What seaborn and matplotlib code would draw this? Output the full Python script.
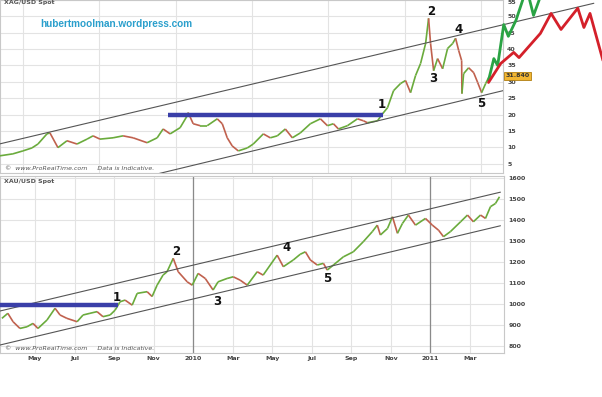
import matplotlib
matplotlib.use("Agg")
import matplotlib.pyplot as plt
import seaborn as sns
import pandas as pd
import numpy as np

# ---- silver (XAG/USD), dates as decimal years ----
ag_t = [2005.698, 2005.869, 2006.0, 2006.118, 2006.197, 2006.315, 2006.354, 2006.459, 2006.577, 2006.709,
        2006.840, 2006.919, 2007.010, 2007.181, 2007.312, 2007.444, 2007.627, 2007.759, 2007.837, 2007.929,
        2008.060, 2008.152, 2008.165, 2008.231, 2008.323, 2008.415, 2008.546, 2008.612, 2008.677, 2008.743,
        2008.822, 2008.940, 2009.018, 2009.150, 2009.241, 2009.333, 2009.438, 2009.530, 2009.635, 2009.766,
        2009.898, 2009.990, 2010.068, 2010.134, 2010.252, 2010.383, 2010.462, 2010.514, 2010.646, 2010.711,
        2010.777, 2010.856, 2010.948, 2011.013, 2011.079, 2011.144, 2011.210, 2011.276, 2011.315, 2011.341,
        2011.381, 2011.433, 2011.499, 2011.564, 2011.630, 2011.669, 2011.709, 2011.748, 2011.752, 2011.774,
        2011.840, 2011.906, 2011.958, 2012.010, 2012.063, 2012.102]
ag_v = [7.4, 8.0, 8.9, 9.8, 11.0, 14.1, 14.4, 9.9, 12.0, 11.0,
        12.5, 13.5, 12.5, 12.9, 13.5, 12.9, 11.4, 12.9, 15.6, 14.1,
        16.0, 19.6, 20.6, 17.2, 16.6, 16.6, 18.7, 17.2, 12.9, 10.4,
        8.9, 9.8, 11.0, 14.1, 12.9, 13.5, 15.6, 12.9, 14.4, 17.2,
        18.7, 16.6, 17.2, 15.6, 16.6, 18.7, 18.1, 17.5, 18.1, 20.2,
        22.1, 27.3, 29.5, 30.4, 26.7, 31.9, 35.6, 41.7, 49.4, 41.7,
        33.4, 37.1, 34.0, 40.2, 41.7, 43.3, 39.6, 36.5, 26.4, 32.5,
        34.3, 32.8, 29.8, 26.7, 29.5, 31.3]

# ---- gold (XAU/USD) ----
au_t = [2009.194, 2009.219, 2009.241, 2009.270, 2009.300, 2009.325, 2009.346, 2009.384, 2009.418, 2009.439,
        2009.468, 2009.511, 2009.536, 2009.565, 2009.595, 2009.620, 2009.650, 2009.671, 2009.692, 2009.713,
        2009.743, 2009.764, 2009.806, 2009.827, 2009.848, 2009.873, 2009.890, 2009.916, 2009.937, 2009.975,
        2009.996, 2010.021, 2010.051, 2010.084, 2010.105, 2010.143, 2010.169, 2010.198, 2010.228, 2010.270,
        2010.295, 2010.354, 2010.380, 2010.422, 2010.451, 2010.473, 2010.494, 2010.523, 2010.549, 2010.565,
        2010.591, 2010.633, 2010.675, 2010.717, 2010.755, 2010.776, 2010.789, 2010.819, 2010.840, 2010.861,
        2010.882, 2010.907, 2010.937, 2010.979, 2011.008, 2011.034, 2011.055, 2011.084, 2011.127, 2011.156,
        2011.181, 2011.211, 2011.232, 2011.253, 2011.274, 2011.291]
au_v = [932, 956, 916, 884, 892, 908, 884, 924, 980, 948,
        932, 916, 948, 956, 964, 940, 948, 971, 1011, 1019,
        995, 1051, 1059, 1036, 1090, 1138, 1154, 1218, 1154, 1106,
        1090, 1146, 1122, 1067, 1106, 1122, 1130, 1114, 1090, 1154,
        1138, 1233, 1178, 1210, 1237, 1249, 1210, 1186, 1194, 1162,
        1186, 1225, 1249, 1297, 1345, 1376, 1329, 1360, 1416, 1337,
        1384, 1424, 1376, 1408, 1376, 1352, 1321, 1345, 1392, 1424,
        1392, 1424, 1408, 1464, 1479, 1511]

# channels, support lines and projections
ag_upper = ([2005.698, 2013.480], [11.05, 54.0])
ag_lower = ([2007.759, 2012.29], [1.85, 27.3])
ag_level = ([2007.903, 2010.724], [20.0, 20.0])
au_upper = ([2009.186, 2011.295], [967, 1533])
au_lower = ([2009.186, 2011.295], [805, 1373])
au_level = ([2009.186, 2009.684], [995, 995])

green_t = [2012.10, 2012.17, 2012.22, 2012.30, 2012.36, 2012.46, 2012.60, 2012.69, 2012.82]
green_v = [30.4, 37.1, 35.0, 47.5, 43.9, 48.8, 58.6, 50.3, 58.6]
red_t = [2012.10, 2012.26, 2012.43, 2012.50, 2012.78, 2012.92, 2013.05, 2013.27, 2013.35, 2013.43, 2013.60]
red_v = [29.8, 35.6, 39.0, 37.4, 44.8, 50.9, 46.0, 52.5, 46.6, 50.9, 36.5]

wave_labels = ["1", "2", "3", "4", "5"]
ag_lab_t = [2010.698, 2011.354, 2011.381, 2011.709, 2012.010]
ag_lab_v = [23.0, 51.5, 31.0, 46.0, 23.3]
au_lab_t = [2009.679, 2009.928, 2010.101, 2010.392, 2010.565]
au_lab_v = [1029, 1252, 1014, 1271, 1124]

ag_ticks = [5, 10, 15, 20, 25, 30, 35, 40, 45, 50, 55]
au_ticks = [800, 900, 1000, 1100, 1200, 1300, 1400, 1500, 1600]
ag_years = [2006, 2007, 2008, 2009, 2010, 2011, 2012]
au_months = [(2009, 5, "May"), (2009, 7, "Jul"), (2009, 9, "Sep"), (2009, 11, "Nov"), (2010, 1, "2010"),
             (2010, 3, "Mar"), (2010, 5, "May"), (2010, 7, "Jul"), (2010, 9, "Sep"), (2010, 11, "Nov"),
             (2011, 1, "2011"), (2011, 3, "Mar")]
last_price = 31.84

sns.set_style("white")
plt.rcParams['font.family'] = ['DejaVu Sans']

UP = "#6aab3c"
DOWN = "#c0614e"
GRID = "#e3e3e3"
TXT = "#444444"

fig = plt.figure(figsize=(6.02, 3.97), dpi=100)
ax1 = fig.add_axes([0, 1 - 173 / 397, 503 / 602, 173 / 397])
ax2 = fig.add_axes([0, 1 - 353 / 397, 504 / 602, 177 / 397])


def candles(ax, t, v):
    # colour each move green (up) or red (down), like the small candles
    for i in range(1, len(t)):
        c = UP if v[i] >= v[i - 1] else DOWN
        ax.plot([t[i - 1], t[i]], [v[i - 1], v[i]], color=c, lw=1.2, solid_capstyle="butt", zorder=3)


def styled(ax, ticks):
    ax.set_yticks(ticks)
    ax.set_yticklabels([str(x) for x in ticks], fontsize=4.5, fontweight="bold", color=TXT)
    ax.yaxis.tick_right()
    ax.tick_params(axis="y", length=0, pad=3)
    ax.grid(True, color=GRID, lw=0.8)
    for s in ax.spines.values():
        s.set_color("#c8c8c8")
        s.set_linewidth(0.8)
    ax.set_xlabel("")
    ax.set_ylabel("")


# ---- top panel: silver ----
ax1.set_xlim(2005.70, 2012.29)
ax1.set_ylim(2.15, 54.9)
ax1.set_xticks(ag_years)
ax1.set_xticklabels([])
ax1.tick_params(axis="x", length=0)
styled(ax1, ag_ticks)
ax1.get_yticklabels()[-1].set_va("top")
candles(ax1, ag_t, ag_v)
ax1.plot(*ag_upper, color="#555555", lw=0.8, clip_on=False, zorder=4)
ax1.plot(*ag_lower, color="#555555", lw=0.8, zorder=4)
ax1.plot(*ag_level, color="#3a3fa8", lw=3.2, solid_capstyle="butt", zorder=5)
sns.lineplot(x=green_t, y=green_v, ax=ax1, color="#2aa344", lw=2.0, sort=False, clip_on=False, zorder=6)
sns.lineplot(x=red_t, y=red_v, ax=ax1, color="#d4202a", lw=2.0, sort=False, clip_on=False, zorder=6)
for lab, t, v in zip(wave_labels, ag_lab_t, ag_lab_v):
    ax1.text(t, v, lab, fontsize=8.5, fontweight="bold", color="#111111", ha="center", va="center", zorder=7)
ax1.text(1.005, (last_price - 2.15) / (54.9 - 2.15), f"{last_price:.3f}", transform=ax1.transAxes,
         fontsize=4.5, fontweight="bold", color="#333333", va="center", ha="left",
         bbox=dict(boxstyle="square,pad=0.25", fc="#f2b632", ec="#b07d10", lw=0.6))
ax1.text(0.008, 0.998, "XAG/USD Spot", transform=ax1.transAxes, fontsize=4.5, fontweight="bold",
         color="#555555", va="top")
ax1.text(0.01, 0.01, "\u00a9  www.ProRealTime.com     Data is Indicative.", transform=ax1.transAxes,
         fontsize=4.5, color="#555555", style="italic", va="bottom")

# ---- bottom panel: gold ----
ax2.set_xlim(2009.186, 2011.31)
ax2.set_ylim(767, 1610)
tick_pos = [y + (m - 1) / 12 for y, m, _ in au_months]
ax2.set_xticks(tick_pos)
ax2.set_xticklabels([lab for _, _, lab in au_months], fontsize=4.5, fontweight="bold", color=TXT)
ax2.tick_params(axis="x", length=0, pad=2)
styled(ax2, au_ticks)
for y, m, lab in au_months:
    if m == 1:
        ax2.axvline(y, color="#8a8a8a", lw=0.9, zorder=2)
candles(ax2, au_t, au_v)
sns.lineplot(x=au_upper[0], y=au_upper[1], ax=ax2, color="#555555", lw=0.8, zorder=4)
sns.lineplot(x=au_lower[0], y=au_lower[1], ax=ax2, color="#555555", lw=0.8, zorder=4)
ax2.plot(*au_level, color="#3a3fa8", lw=3.2, solid_capstyle="butt", zorder=5)
for lab, t, v in zip(wave_labels, au_lab_t, au_lab_v):
    ax2.text(t, v, lab, fontsize=8.5, fontweight="bold", color="#111111", ha="center", va="center", zorder=7)
ax2.text(0.008, 0.985, "XAU/USD Spot", transform=ax2.transAxes, fontsize=4.5, fontweight="bold",
         color="#555555", va="top")
ax2.text(0.01, 0.01, "\u00a9  www.ProRealTime.com     Data is Indicative.", transform=ax2.transAxes,
         fontsize=4.5, color="#555555", style="italic", va="bottom")

fig.text(40 / 602, 1 - 24 / 397, "hubertmoolman.wordpress.com", fontsize=7.2, fontweight="bold",
         family="Liberation Sans", color="#2a9fcc", va="center", ha="left")

fig.savefig("out.png", dpi=100)
